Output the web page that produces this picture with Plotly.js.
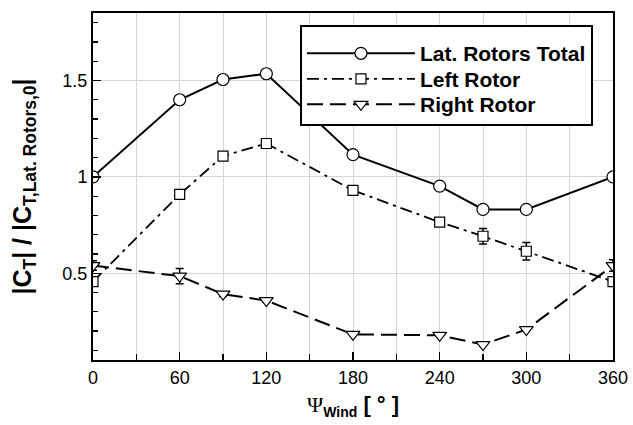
<!DOCTYPE html>
<html>
<head>
<meta charset="utf-8">
<script src="https://cdn.plot.ly/plotly-3.0.1.min.js"></script>
<style>
  html, body { margin: 0; padding: 0; background: #fff; }
  #chart { width: 633px; height: 425px; }
</style>
</head>
<body>
<div id="chart"></div>
<script>
// Wind azimuth (deg)
const windAngle = [0, 60, 90, 120, 180, 240, 270, 300, 360];

// Normalised thrust magnitudes
const totalCT = [1.0, 1.40, 1.505, 1.535, 1.115, 0.952, 0.831, 0.831, 1.0];
const leftCT  = [0.457, 0.909, 1.108, 1.173, 0.930, 0.765, 0.692, 0.614, 0.457];
const rightCT = [0.540, 0.485, 0.392, 0.358, 0.183, 0.178, 0.130, 0.208, 0.540];

// Scatter (error bar half-widths)
const totalErr = [0, 0, 0, 0, 0, 0, 0, 0, 0];
const leftErr  = [0, 0, 0, 0, 0.02, 0, 0.04, 0.045, 0];
const rightErr = [0.025, 0.04, 0.012, 0.008, 0, 0, 0, 0, 0.03];

const seriesNames = ['Lat. Rotors Total', 'Left Rotor', 'Right Rotor'];
const xTickVals = [0, 60, 120, 180, 240, 300, 360];
const yTickVals = [0.5, 1, 1.5];
const yTickText = ['0.5', '1', '1.5'];

const errStyle = { type: 'data', color: '#000', thickness: 1.5, width: 4 };

const traces = [
  {
    x: windAngle, y: totalCT, name: seriesNames[0], type: 'scatter', mode: 'lines+markers',
    line: { color: '#000', width: 2, dash: 'solid' },
    marker: { symbol: 'circle', size: 12, color: '#fff', line: { color: '#000', width: 1.2 } },
    error_y: Object.assign({ array: totalErr, visible: false }, errStyle)
  },
  {
    x: windAngle, y: leftCT, name: seriesNames[1], type: 'scatter', mode: 'lines+markers',
    line: { color: '#000', width: 1.8, dash: '12px,5px,3px,5px' },
    marker: { symbol: 'square', size: 10, color: '#fff', line: { color: '#000', width: 1.2 } },
    error_y: Object.assign({ array: leftErr, visible: true }, errStyle)
  },
  {
    x: windAngle, y: rightCT, name: seriesNames[2], type: 'scatter', mode: 'lines+markers',
    line: { color: '#000', width: 2, dash: '16px,7px' },
    marker: { symbol: 'triangle-down', size: 12, color: '#fff', line: { color: '#000', width: 1.2 } },
    error_y: Object.assign({ array: rightErr, visible: true }, errStyle)
  }
];

const sans = 'Liberation Sans, Arial, sans-serif';
const tickFont = { family: sans, size: 18, color: '#000' };

const layout = {
  width: 633, height: 425,
  margin: { l: 93, r: 20, t: 13, b: 65 },
  paper_bgcolor: '#fff', plot_bgcolor: '#fff',
  showlegend: true,
  font: { family: sans, color: '#000' },
  xaxis: {
    range: [0, 360],
    tickvals: xTickVals,
    ticks: 'inside', ticklen: 8, tickwidth: 1.5, tickcolor: '#000',
    tickfont: tickFont,
    showline: true, linecolor: '#000', linewidth: 2, mirror: true,
    showgrid: true, gridcolor: '#d4d4d4', gridwidth: 1,
    zeroline: false,
    minor: { dtick: 30, tick0: 0, ticks: 'inside', ticklen: 6, tickwidth: 1.5, tickcolor: '#000', showgrid: true, gridcolor: '#d4d4d4', gridwidth: 1 },
    title: {
      text: '<span style="font-family:\'Liberation Serif\', serif;font-weight:normal;font-size:22px">Ψ</span><sub><span style="font-size:14px">Wind</span></sub> [ ° ]',
      font: { family: sans, size: 22, color: '#000', weight: 'bold' },
      standoff: 10
    }
  },
  yaxis: {
    range: [0.05, 1.85],
    tickvals: yTickVals, ticktext: yTickText,
    ticks: 'inside', ticklen: 8, tickwidth: 1.5, tickcolor: '#000',
    tickfont: tickFont,
    showline: true, linecolor: '#000', linewidth: 2, mirror: true,
    showgrid: true, gridcolor: '#d4d4d4', gridwidth: 1,
    zeroline: false,
    minor: { dtick: 0.1, tick0: 0, ticks: 'inside', ticklen: 5, tickwidth: 1.2, tickcolor: '#000', showgrid: false },
    title: {
      text: '|C<sub>T</sub>| / |C<sub>T,Lat. Rotors,0</sub>|',
      font: { family: sans, size: 25, color: '#000', weight: 'bold' },
      standoff: 24
    }
  },
  legend: {
    x: 0.398, y: 0.965, xanchor: 'left', yanchor: 'top',
    bgcolor: '#fff', bordercolor: '#000', borderwidth: 2,
    itemwidth: 108,
    font: { family: sans, size: 21, color: '#000', weight: 'bold' }
  }
};

// Tighter legend rows than the default line height of a 21px font,
// with a little extra room above the first row
const LEGEND_ROW = 25.5;
const LEGEND_TOP_PAD = 6;
const LEGEND_BOTTOM_PAD = -1;

Plotly.newPlot('chart', traces, layout, { displayModeBar: false, staticPlot: true }).then(function (gd) {
  const items = gd.querySelectorAll('.legend .traces');
  if (items.length < 2) return;
  const parse = el => /translate\(\s*([-\d.]+)[ ,]+([-\d.]+)\s*\)/.exec(el.getAttribute('transform') || '');
  const first = parse(items[0]);
  const second = parse(items[1]);
  if (!first || !second) return;
  const y0 = parseFloat(first[2]);
  const oldRow = parseFloat(second[2]) - y0;
  items.forEach(function (el, i) {
    const m = parse(el);
    if (m) el.setAttribute('transform', 'translate(' + m[1] + ',' + (y0 + LEGEND_TOP_PAD + i * LEGEND_ROW) + ')');
  });
  const shrink = (items.length - 1) * (oldRow - LEGEND_ROW);
  const bg = gd.querySelector('.legend .bg');
  if (bg) bg.setAttribute('height', parseFloat(bg.getAttribute('height')) - shrink + LEGEND_TOP_PAD + LEGEND_BOTTOM_PAD);
});
</script>
</body>
</html>
